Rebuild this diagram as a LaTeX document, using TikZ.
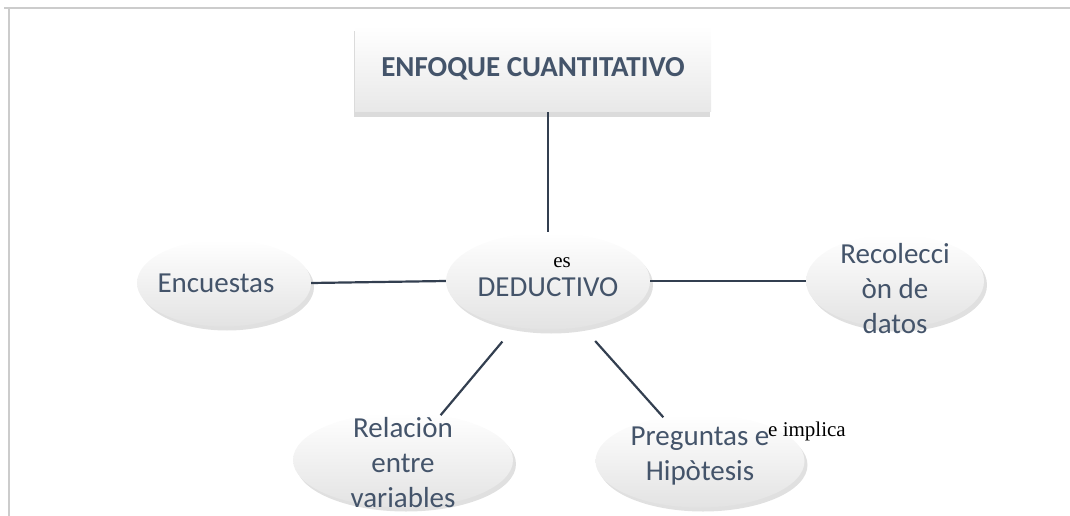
\documentclass[tikz,border=0pt]{standalone}
\usepackage{fontspec}
\setmainfont{Carlito}
\newfontfamily\timesfont{Liberation Serif}
\usetikzlibrary{shapes.geometric,shadows}

\definecolor{txtblue}{HTML}{44546A}
\definecolor{linkcol}{HTML}{333F50}
\definecolor{framegray}{HTML}{CCCCCC}

\tikzset{
    bubble/.style={ellipse, inner sep=0pt, top color=white, bottom color=gray!22,
        drop shadow={shadow xshift=3pt, shadow yshift=-4pt, opacity=0.3, fill=gray!80}},
    bubbletext/.style={align=center, text=txtblue, font=\fontsize{29}{35}\selectfont},
    link/.style={draw=linkcol, line width=2.2pt},
    note/.style={font=\timesfont\fontsize{21}{24}\selectfont},
}

\begin{document}
\begin{tikzpicture}[x=1pt,y=-1pt]
            \useasboundingbox (0,0) rectangle (1070,516);
            % page frame
            \draw[framegray, line width=2pt] (4,8) -- (1070,8);
            \draw[framegray, line width=2pt] (9,8) -- (9,516);

            \node[rectangle, minimum width=356pt, minimum height=86pt, top color=white, bottom color=gray!18,
                drop shadow={shadow xshift=-1pt, shadow yshift=-5pt, opacity=0.35, fill=gray!80},
                text=txtblue, font=\bfseries\fontsize{29}{34}\selectfont] (titulo) at (533,69) {ENFOQUE CUANTITATIVO};

            \node[bubble, minimum width=204pt, minimum height=97pt,
                label={[bubbletext, yshift=-6pt]center:DEDUCTIVO}] (ded) at (548,281) {};
            \node[bubble, minimum width=174pt, minimum height=87pt,
                label={[bubbletext, xshift=-8pt]center:Encuestas}] (enc) at (224,283) {};
            \node[bubble, minimum width=178pt, minimum height=93pt,
                label={[bubbletext, yshift=-8pt]center:Recolecci\\òn de\\datos}] (rec) at (895,281) {};
            \node[bubble, minimum width=220pt, minimum height=95pt,
                label={[bubbletext, yshift=-3pt]center:Relaciòn\\entre\\variables}] (rel) at (403,460) {};
            \node[bubble, minimum width=209pt, minimum height=93pt,
                label={[bubbletext, yshift=5pt]center:Preguntas e\\Hipòtesis}] (preg) at (700,461) {};

            \node[note] (es) at (562,263) {es};
            \node[note] (implica) at (807,431) {e implica};

            \draw (ded.north |- titulo.south) edge[link] (ded.north);
            \draw (enc.east) edge[link] (ded.west);
            \draw (ded.east) edge[link] (rec.west);
            \draw (ded.234) edge[link, shorten <=19pt] (rel.50);
            \draw (ded.307) edge[link, shorten <=19pt] (preg.130);
        \end{tikzpicture}
\end{document}
